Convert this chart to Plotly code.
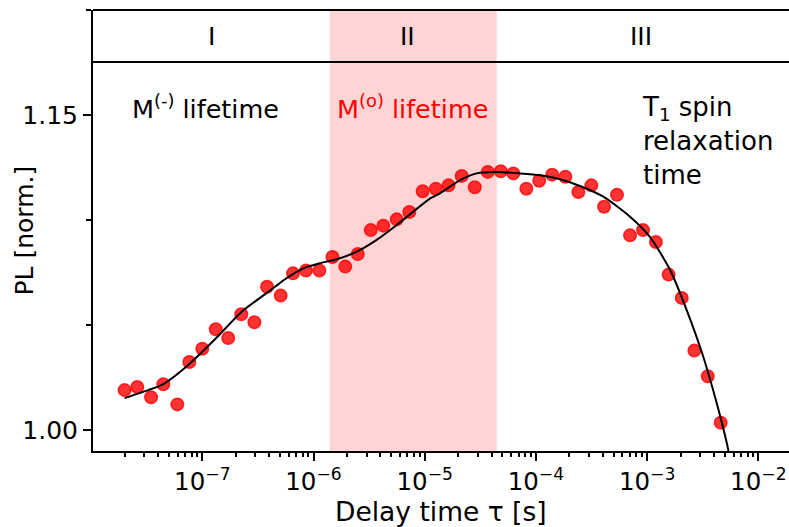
import numpy as np
import plotly.graph_objects as go

# ---- data ----
delay_s = [2.0e-8, 2.6e-8, 3.46e-8, 4.46e-8, 5.96e-8, 7.64e-8, 1.0e-7, 1.32e-7, 1.71e-7, 2.24e-7,
           2.94e-7, 3.82e-7, 5.07e-7, 6.54e-7, 8.56e-7, 1.13e-6, 1.48e-6, 1.93e-6, 2.50e-6, 3.27e-6,
           4.24e-6, 5.60e-6, 7.27e-6, 9.59e-6, 1.26e-5, 1.64e-5, 2.15e-5, 2.82e-5, 3.69e-5, 4.83e-5,
           6.26e-5, 8.20e-5, 1.07e-4, 1.40e-4, 1.84e-4, 2.41e-4, 3.15e-4, 4.10e-4, 5.36e-4, 7.02e-4,
           9.19e-4, 1.20e-3, 1.56e-3, 2.05e-3, 2.66e-3, 3.51e-3, 4.59e-3]
pl_norm = [1.0190, 1.0205, 1.0156, 1.0218, 1.0122, 1.0324, 1.0387, 1.0480, 1.0438, 1.0551,
           1.0513, 1.0682, 1.0640, 1.0746, 1.0759, 1.0759, 1.0824, 1.0778, 1.0838, 1.0952,
           1.0973, 1.1003, 1.1038, 1.1137, 1.1149, 1.1165, 1.1210, 1.1156, 1.1229, 1.1232,
           1.1222, 1.1149, 1.1187, 1.1216, 1.1206, 1.1133, 1.1165, 1.1063, 1.1120, 1.0927,
           1.0952, 1.0895, 1.0740, 1.0629, 1.0378, 1.0256, 1.0035]

fit_x = [2.0e-8, 3.27e-8, 4.46e-8, 7.48e-8, 1.30e-7, 2.26e-7, 3.42e-7, 4.51e-7, 5.54e-7, 8.10e-7,
         1.14e-6, 1.62e-6, 2.45e-6, 3.70e-6, 5.60e-6, 7.90e-6, 1.12e-5, 1.37e-5, 2.08e-5, 2.93e-5,
         4.44e-5, 7.19e-5, 1.09e-4, 1.65e-4, 2.49e-4, 4.04e-4, 7.02e-4, 1.06e-3, 1.61e-3, 2.27e-3,
         3.20e-3, 4.23e-3, 5.37e-3, 5.8e-3]
fit_y = [1.0152, 1.0190, 1.0219, 1.0310, 1.0432, 1.0563, 1.0635, 1.0682, 1.0718, 1.0770,
         1.0794, 1.0813, 1.0849, 1.0905, 1.0976, 1.1040, 1.1103, 1.1127, 1.1190, 1.1222,
         1.1229, 1.1222, 1.1213, 1.1194, 1.1162, 1.1111, 1.1016, 1.0920, 1.0762, 1.0571,
         1.0349, 1.0127, 0.9905, 0.9800]

region_bounds = [1.40e-6, 4.45e-5]          # shaded region II
region_labels = ["I", "II", "III"]
region_label_x = [1.22e-7, 6.94e-6, 8.8e-4]

x_tick_vals = [1e-7, 1e-6, 1e-5, 1e-4, 1e-3, 1e-2]
x_tick_text = ["10<sup>\u22127</sup>", "10<sup>\u22126</sup>", "10<sup>\u22125</sup>",
               "10<sup>\u22124</sup>", "10<sup>\u22123</sup>", "10<sup>\u22122</sup>"]
y_tick_vals = [1.00, 1.15]
y_tick_text = ["1.00", "1.15"]
y_minor_vals = [1.05, 1.10, 1.20]

FONT = "DejaVu Sans"
minor_x = [m * 10.0 ** k for k in range(-8, -1) for m in range(2, 10)]

fig = go.Figure()

fig.add_trace(go.Scatter(
    x=delay_s, y=pl_norm, mode="markers",
    marker=dict(size=12.5, color="rgba(255,0,0,0.8)",
                line=dict(width=1.5, color="rgba(255,0,0,0.8)")),
    showlegend=False, cliponaxis=False))
fig.add_trace(go.Scatter(
    x=fit_x, y=fit_y, mode="lines", line=dict(color="black", width=2, shape="spline", smoothing=0.6),
    showlegend=False))

# shaded region II
fig.add_shape(type="rect", xref="x", yref="paper", x0=region_bounds[0], x1=region_bounds[1],
              y0=0, y1=1, fillcolor="rgba(255,0,0,0.17)", line=dict(width=0), layer="below")
# band separator line and top line
fig.add_shape(type="line", xref="paper", yref="y", x0=0, x1=1, y0=1.1752, y1=1.1752,
              line=dict(color="black", width=2))
fig.add_shape(type="line", xref="paper", yref="paper", x0=0, x1=1, y0=1, y1=1,
              line=dict(color="black", width=2))

for lab, xv in zip(region_labels, region_label_x):
    fig.add_annotation(x=np.log10(xv), y=1.1876, xref="x", yref="y", text=lab, showarrow=False,
                       font=dict(family=FONT, size=25, color="black"), xanchor="center", yanchor="middle")

fig.add_annotation(x=np.log10(2.25e-8), y=1.1538, xref="x", yref="y",
                   text="M<sup>(-)</sup> lifetime", showarrow=False,
                   font=dict(family=FONT, size=25.5, color="black"), xanchor="left", yanchor="middle")
fig.add_annotation(x=np.log10(7.8e-6), y=1.1538, xref="x", yref="y",
                   text="M<sup>(o)</sup> lifetime", showarrow=False,
                   font=dict(family=FONT, size=25.5, color="red"), xanchor="center", yanchor="middle")
fig.add_annotation(x=np.log10(8.63e-4), y=1.1375, xref="x", yref="y",
                   text="T<sub>1</sub> spin<br>relaxation<br>time", showarrow=False, align="left",
                   font=dict(family=FONT, size=26, color="black"), xanchor="left", yanchor="middle")

# axis titles
fig.add_annotation(x=0, y=0.5, xref="paper", yref="paper", text="PL [norm.]", textangle=-90,
                   showarrow=False, xanchor="center", yanchor="middle", xshift=-69,
                   font=dict(family=FONT, size=25, color="black"))
fig.add_annotation(x=0.5, y=0, xref="paper", yref="paper", text="Delay time \u03c4 [s]",
                   showarrow=False, xanchor="center", yanchor="middle", yshift=-60,
                   font=dict(family=FONT, size=26.5, color="black"))

fig.update_layout(
    width=789, height=527,
    margin=dict(l=93, r=0, t=10, b=76),
    paper_bgcolor="white", plot_bgcolor="white",
    font=dict(family=FONT, size=24, color="black"),
    showlegend=False,
)
fig.update_xaxes(
    type="log", range=[-7.983, -1.724],
    showgrid=False, zeroline=False,
    showline=True, linecolor="black", linewidth=2,
    ticks="outside", ticklen=8, tickwidth=2, tickcolor="black",
    tickmode="array", tickvals=x_tick_vals, ticktext=x_tick_text,
    tickfont=dict(family=FONT, size=24.5, color="black"),
    minor=dict(tickmode="array", tickvals=minor_x, ticks="outside", ticklen=4,
               tickwidth=1.5, tickcolor="black", showgrid=False),
)
fig.update_yaxes(
    range=[0.99, 1.20],
    showgrid=False, zeroline=False,
    showline=True, linecolor="black", linewidth=2,
    ticks="outside", ticklen=8, tickwidth=2, tickcolor="black",
    tickmode="array", tickvals=y_tick_vals, ticktext=y_tick_text,
    tickfont=dict(family=FONT, size=25, color="black"),
    minor=dict(tickmode="array", tickvals=y_minor_vals, ticks="outside", ticklen=5,
               tickwidth=1.5, tickcolor="black", showgrid=False),
)

fig.write_html("out.html")
